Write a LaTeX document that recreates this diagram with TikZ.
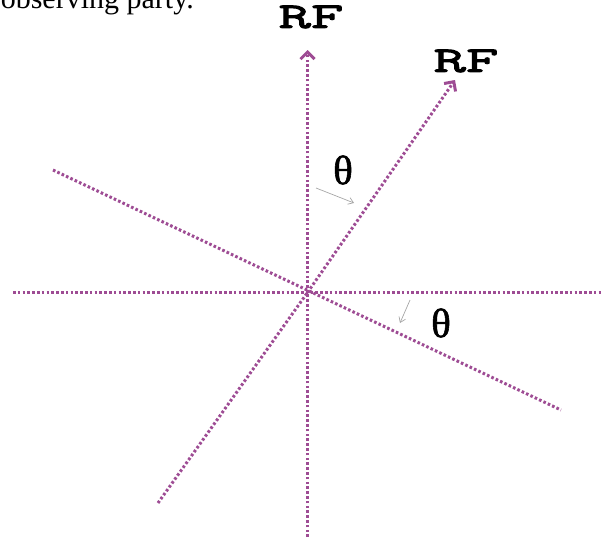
\documentclass[tikz,border=0pt]{standalone}
\usepackage{fontspec}
\setmainfont{Liberation Serif}
\newfontfamily\rfmono[FakeStretch=1.75,FakeBold=3]{Latin Modern Mono}
\newfontfamily\thfont[FakeBold=1.4]{Liberation Serif}
\usepackage{tikz}
\usetikzlibrary{arrows.meta}
\definecolor{axispurple}{RGB}{158,76,148}
\tikzset{
  axis/.style={axispurple,line width=3pt,dash pattern=on 2.6pt off 2.2pt},
  rflabel/.style={font=\rfmono\fontsize{36}{36}\selectfont,inner sep=0pt},
  anglabel/.style={font=\thfont\fontsize{41}{41}\selectfont,inner sep=0pt},
  turn/.style={gray!70,line width=.7pt,-{Straight Barb[length=5pt,width=7pt]}}
}
\begin{document}
\begin{tikzpicture}[x=1pt,y=-1pt,>={Straight Barb[length=7pt,width=14pt,line width=3pt]}]
\useasboundingbox (0,0) rectangle (603,541);\clip (0,0) rectangle (603,541);
\node[anchor=base east,font=\fontsize{30}{30}\selectfont,inner sep=0pt] (cap) at (194,8) {observing party.};
\coordinate (O) at (307.5,292.5);
\coordinate (vtop) at (307.5,50);\coordinate (vbot) at (307.5,537);
\coordinate (hl) at (13,292.5);\coordinate (hr) at (601,292.5);
\coordinate (ttop) at (455,80);\coordinate (tbot) at (158,503);
\coordinate (ol) at (53,170);\coordinate (or) at (561,410);
\draw[axis] (hl)--(hr);\draw[axis] (ol)--(or);
\draw[axis] (vbot)--(O);\draw[axis,->] (O)--(vtop);
\draw[axis] (tbot)--(O);\draw[axis,->] (O)--(ttop);
\node[rflabel] (rf1) at (311,17) {RF};\node[rflabel] (rf2) at (466,61) {RF};
\node[anglabel] (th1) at (343,170) {θ};\node[anglabel] (th2) at (441,323) {θ};
\coordinate (a1s) at (316,188);\coordinate (a1e) at (354,203);
\coordinate (a2s) at (410,300);\coordinate (a2e) at (400,323);
\draw[turn] (a1s)--(a1e);\draw[turn] (a2s)--(a2e);
\end{tikzpicture}
\end{document}
